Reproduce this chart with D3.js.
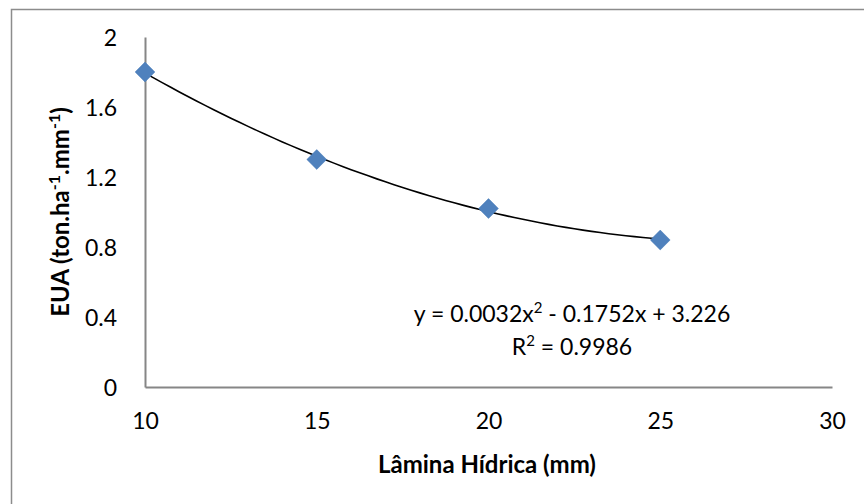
<!DOCTYPE html>
<html><head><meta charset="utf-8">
<script src="https://cdn.jsdelivr.net/npm/d3@7"></script>
<style>body{margin:0;background:#fff}svg{display:block;font-family:Lato,"Open Sans",sans-serif}</style>
</head><body><svg id="c" width="864" height="504"></svg>
<script>
const xValues = [10, 15, 20, 25];
const yValues = [1.8, 1.3, 1.02, 0.84];
const xTicks = [10, 15, 20, 25, 30];
const yTicks = [0, 0.4, 0.8, 1.2, 1.6, 2];
const trendCoef = [0.0032, -0.1752, 3.226];
const eqParts = ["y = 0.0032x", "2", " - 0.1752x + 3.226"];
const r2Parts = ["R", "2", " = 0.9986"];
const xTitle = "Lâmina Hídrica (mm)";

const FS = 23;
const svg = d3.select("#c");
svg.append("rect").attr("x",11.5).attr("y",9.5).attr("width",900).attr("height",600)
  .attr("fill","none").attr("stroke","#8c8c8c").attr("stroke-width",1.5);

const x = d3.scaleLinear().domain([10,30]).range([145,832]);
const y = d3.scaleLinear().domain([0,2]).range([387,37]);

const xa = svg.append("g").attr("transform","translate(0,387)")
  .call(d3.axisBottom(x).tickValues(xTicks).tickSize(0).tickPadding(26).tickFormat(d3.format("d")));
const ya = svg.append("g").attr("transform","translate(145,0)")
  .call(d3.axisLeft(y).tickValues(yTicks).tickSize(0).tickPadding(28).tickFormat(d=>String(d)));
[xa,ya].forEach(a=>{
  a.select(".domain").attr("stroke","#868686").attr("stroke-width",2);
  a.selectAll("text").attr("font-size",FS).attr("fill","#000").attr("font-family","Lato,sans-serif");
});
ya.selectAll("text").attr("dy","0.35em");

// trendline
const xs = d3.range(10, 25.01, 0.25);
const f = v => trendCoef[0]*v*v + trendCoef[1]*v + trendCoef[2];
svg.append("path").datum(xs)
  .attr("d", d3.line().x(d=>x(d)).y(d=>y(f(d))).curve(d3.curveBasis))
  .attr("fill","none").attr("stroke","#000").attr("stroke-width",1.6);

// markers
svg.selectAll(".pt").data(xValues.map((v,i)=>[v,yValues[i]])).join("path")
  .attr("d", d3.symbol().type(d3.symbolSquare).size(196))
  .attr("transform", d=>`translate(${x(d[0])},${y(d[1])}) rotate(45)`)
  .attr("fill","#4F81BD").attr("stroke","#4A7EBB").attr("stroke-width",0.5);

function supText(parts, px, py, bold){
  const t = svg.append("text").attr("x",px).attr("y",py).attr("text-anchor","middle")
    .attr("font-size",FS);
  if (bold) t.attr("font-weight","bold");
  return t;
}
const e1 = supText(eqParts, 572, 322);
e1.append("tspan").text(eqParts[0]);
e1.append("tspan").attr("font-size",15).attr("dy",-9).text(eqParts[1]);
e1.append("tspan").attr("dy",9).text(eqParts[2]);
const e2 = supText(r2Parts, 572, 355);
e2.append("tspan").text(r2Parts[0]);
e2.append("tspan").attr("font-size",15).attr("dy",-9).text(r2Parts[1]);
e2.append("tspan").attr("dy",9).text(r2Parts[2]);

// axis titles
svg.append("text").attr("x",487).attr("y",473).attr("text-anchor","middle")
  .attr("font-size",24).attr("font-weight","bold").text(xTitle);
const yt = svg.append("text").attr("transform","translate(69,212) rotate(-90)")
  .attr("text-anchor","middle").attr("font-size",24).attr("font-weight","bold");
yt.append("tspan").text("EUA (ton.ha");
yt.append("tspan").attr("font-size",16).attr("dy",-9).text("-1");
yt.append("tspan").attr("dy",9).text(".mm");
yt.append("tspan").attr("font-size",16).attr("dy",-9).text("-1");
yt.append("tspan").attr("dy",9).text(")");
</script></body></html>
